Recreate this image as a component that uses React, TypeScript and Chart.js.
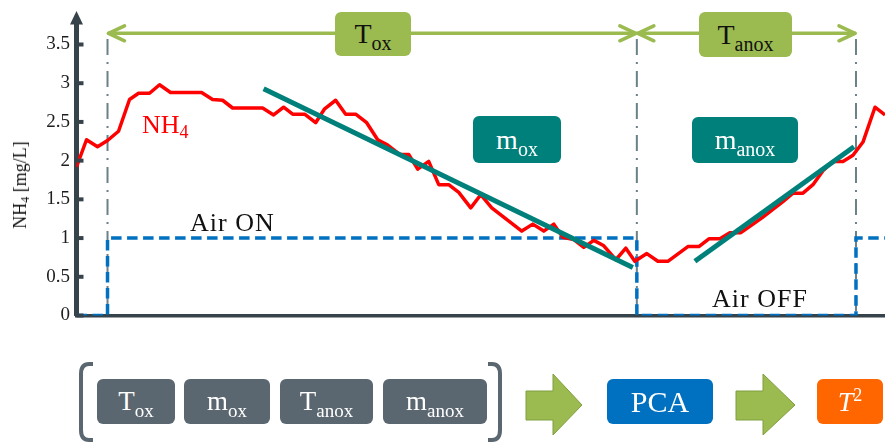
import React, { useEffect, useRef } from 'react';
import { Chart, registerables } from 'chart.js';

Chart.register(...registerables);

// ---------- data ----------
const timeMin = [
  0.0, 1.0, 2.1, 3.1, 4.2, 5.3, 6.2, 7.3, 8.3, 9.4, 12.5, 13.6, 14.6, 15.6, 18.6, 19.7,
  20.7, 21.6, 22.8, 23.9, 24.8, 25.9, 26.9, 27.9, 29.0, 30.1, 31.1, 32.3, 33.2, 34.1, 35.2,
  36.2, 37.2, 38.2, 39.4, 40.4, 41.5, 42.5, 44.5, 45.6, 46.7, 47.7, 48.6, 49.7, 50.7, 51.7,
  52.7, 53.9, 54.9, 55.8, 57.0, 58.1, 59.1, 61.1, 62.2, 63.2, 64.3, 65.3, 66.4, 67.4, 68.5,
  69.5, 70.6, 71.6, 72.6, 73.6, 74.6, 75.6, 76.6, 77.6, 78.6, 79.8, 80.8,
];
const nh4 = [
  1.92, 2.27, 2.18, 2.26, 2.38, 2.79, 2.87, 2.87, 2.98, 2.88, 2.88, 2.79, 2.78, 2.68, 2.68, 2.59,
  2.69, 2.6, 2.6, 2.49, 2.67, 2.78, 2.6, 2.6, 2.49, 2.27, 2.2, 2.08, 2.08, 1.89, 1.99,
  1.69, 1.69, 1.59, 1.39, 1.56, 1.39, 1.29, 1.09, 1.18, 1.09, 1.18, 1.01, 0.98, 0.88, 0.97,
  0.9, 0.72, 0.87, 0.7, 0.8, 0.7, 0.7, 0.89, 0.89, 0.99, 0.99, 1.07, 1.07, 1.16, 1.26,
  1.36, 1.47, 1.58, 1.58, 1.69, 1.87, 1.99, 1.99, 2.07, 2.24, 2.69, 2.59,
];
const airTime = [0, 3.1, 3.1, 56.0, 56.0, 77.9, 77.9, 80.8];
const airState = [0, 0, 1, 1, 0, 0, 1, 1];
const oxFitTime = [18.7, 55.6];
const oxFitValue = [2.93, 0.62];
const anoxFitTime = [61.8, 77.7];
const anoxFitValue = [0.7, 2.18];
const phaseBounds = [3.1, 56.0, 77.9];
const yMin = 0;
const yMax = 3.5;
const yStep = 0.5;
const xMax = 80.8;

// ---------- styles ----------
const SERIF = '"Liberation Serif", "DejaVu Serif", serif';
const AXIS = '#37434a';
const DASHDOT = '#6b8088';
const GREEN = '#9bbb50';
const TEAL = '#00807a';
const GRAY = '#5b6770';

const zip = (xs: number[], ys: number[]) => xs.map((x, i) => ({ x, y: ys[i] }));

const decor = {
  id: 'decor',
  beforeDatasetsDraw(chart: any) {
    const { ctx, chartArea, scales } = chart;
    const x = scales.x;
    ctx.save();
    ctx.strokeStyle = DASHDOT;
    ctx.lineWidth = 2;
    ctx.setLineDash([16, 7, 2, 7]);
    for (const t of phaseBounds) {
      const px = x.getPixelForValue(t);
      ctx.beginPath();
      ctx.moveTo(px, 39);
      ctx.lineTo(px, chartArea.bottom);
      ctx.stroke();
    }
    ctx.restore();
  },
  afterDraw(chart: any) {
    const { ctx, chartArea, scales } = chart;
    const x = scales.x;
    const y = scales.y;
    const L = chartArea.left;
    ctx.save();
    // y axis extension + arrow head
    ctx.strokeStyle = AXIS;
    ctx.fillStyle = AXIS;
    ctx.lineWidth = 5;
    ctx.beginPath();
    ctx.moveTo(L, chartArea.top + 1);
    ctx.lineTo(L, 23);
    ctx.stroke();
    ctx.beginPath();
    ctx.moveTo(L - 6.5, 24.5);
    ctx.lineTo(L + 6.5, 24.5);
    ctx.lineTo(L, 11);
    ctx.closePath();
    ctx.fill();
    // inward tick marks
    ctx.lineWidth = 4;
    for (const tk of y.ticks) {
      const py = y.getPixelForValue(tk.value);
      ctx.beginPath();
      ctx.moveTo(L, py);
      ctx.lineTo(L + 7, py);
      ctx.stroke();
    }
    // green double arrows
    const ay = 33.3;
    ctx.strokeStyle = GREEN;
    ctx.lineWidth = 3.5;
    ctx.lineCap = 'round';
    ctx.lineJoin = 'round';
    const dbl = (t1: number, t2: number) => {
      const x1 = x.getPixelForValue(t1) + 1;
      const x2 = x.getPixelForValue(t2) - 1;
      ctx.beginPath();
      ctx.moveTo(x1, ay);
      ctx.lineTo(x2, ay);
      ctx.stroke();
      ctx.beginPath();
      ctx.moveTo(x1 + 16, ay - 7.5);
      ctx.lineTo(x1, ay);
      ctx.lineTo(x1 + 16, ay + 7.5);
      ctx.stroke();
      ctx.beginPath();
      ctx.moveTo(x2 - 16, ay - 7.5);
      ctx.lineTo(x2, ay);
      ctx.lineTo(x2 - 16, ay + 7.5);
      ctx.stroke();
    };
    dbl(phaseBounds[0], phaseBounds[1]);
    dbl(phaseBounds[1], phaseBounds[2]);
    ctx.restore();
  },
};

const Sub = ({ children, size = 20, dy = 7 }: any) => (
  <span style={{ fontSize: size, position: 'relative', top: dy }}>{children}</span>
);

const Box = ({ x, y, w, h, bg, color, size = 28, children }: any) => (
  <div
    style={{
      position: 'absolute',
      left: x,
      top: y,
      width: w,
      height: h,
      background: bg,
      color,
      borderRadius: 6,
      display: 'flex',
      alignItems: 'center',
      justifyContent: 'center',
      fontFamily: SERIF,
      fontSize: size,
      lineHeight: 1,
      whiteSpace: 'nowrap',
    }}
  >
    <span>{children}</span>
  </div>
);

const Text = ({ x, y, size, color = '#111', children, spacing = 0 }: any) => (
  <div
    style={{
      position: 'absolute',
      left: x,
      top: y,
      fontFamily: SERIF,
      fontSize: size,
      lineHeight: 1,
      color,
      whiteSpace: 'nowrap',
      letterSpacing: spacing,
    }}
  >
    {children}
  </div>
);

export default function App() {
  const ref = useRef<HTMLCanvasElement | null>(null);

  useEffect(() => {
    if (!ref.current) return;
    const chart = new Chart(ref.current, {
      type: 'line',
      data: {
        datasets: [
          {
            data: zip(oxFitTime, oxFitValue),
            borderColor: TEAL,
            borderWidth: 5,
            pointRadius: 0,
            order: 1,
          },
          {
            data: zip(anoxFitTime, anoxFitValue),
            borderColor: TEAL,
            borderWidth: 5,
            pointRadius: 0,
            order: 1,
          },
          {
            data: zip(timeMin, nh4),
            borderColor: '#ff0000',
            borderWidth: 3.5,
            pointRadius: 0,
            borderJoinStyle: 'round',
            order: 2,
          },
          {
            data: zip(airTime, airState),
            borderColor: '#0070c0',
            borderWidth: 3.5,
            borderDash: [10.5, 5.5],
            pointRadius: 0,
            order: 3,
          },
        ] as any,
      },
      options: {
        animation: false,
        responsive: false,
        maintainAspectRatio: false,
        layout: { padding: { top: 44.5, right: 0, bottom: 0, left: 0 } },
        plugins: { legend: { display: false }, tooltip: { enabled: false } },
        scales: {
          x: {
            type: 'linear',
            min: 0,
            max: xMax,
            ticks: { display: false },
            grid: { display: false, drawTicks: false },
            border: { display: true, color: AXIS, width: 3.5 },
            afterFit: (s: any) => {
              s.height = 127.5;
            },
          },
          y: {
            min: yMin,
            max: yMax,
            ticks: {
              stepSize: yStep,
              padding: 6.5,
              color: '#1e1e1e',
              font: { family: 'Liberation Serif', size: 19 },
              callback: (v: any) => String(Number(v)),
            },
            grid: { display: false, drawTicks: false },
            border: { display: true, color: AXIS, width: 5 },
            afterFit: (s: any) => {
              s.width = 76.5;
            },
          },
        },
      } as any,
      plugins: [decor],
    });
    return () => chart.destroy();
  }, []);

  return (
    <div style={{ position: 'absolute', left: 0, top: 0, width: 885, height: 443, background: '#fff', overflow: 'hidden' }}>
      <canvas ref={ref} width={885} height={443} style={{ position: 'absolute', left: 0, top: 0, width: 885, height: 443 }} />

      {/* y axis title */}
      <div
        style={{
          position: 'absolute',
          left: 20,
          top: 185,
          transform: 'translate(-50%, -50%) rotate(-90deg)',
          fontFamily: SERIF,
          fontSize: 18,
          lineHeight: 1,
          whiteSpace: 'nowrap',
          color: '#111',
        }}
      >
        NH<Sub size={12} dy={3}>4</Sub> [mg/L]
      </div>

      <Text x={142} y={112} size={26} color="#ff0000">
        NH<Sub size={18} dy={5}>4</Sub>
      </Text>
      <Text x={190} y={210} size={26} spacing={1}>Air ON</Text>
      <Text x={712} y={286} size={26} spacing={1}>Air OFF</Text>

      <Box x={335} y={12} w={76} h={44} bg={GREEN} color="#111">
        T<Sub>ox</Sub>
      </Box>
      <Box x={699} y={12} w={93} h={45} bg={GREEN} color="#111">
        T<Sub>anox</Sub>
      </Box>
      <Box x={473} y={116} w={88} h={47} bg={TEAL} color="#fff">
        m<Sub>ox</Sub>
      </Box>
      <Box x={692} y={117} w={106} h={46} bg={TEAL} color="#fff">
        m<Sub>anox</Sub>
      </Box>

      {/* bottom flow */}
      <svg width={885} height={443} style={{ position: 'absolute', left: 0, top: 0, pointerEvents: 'none' }}>
        <path d="M93,364 L89,364 Q81,364 81,374 L81,430 Q81,440 89,440 L93,440" fill="none" stroke={GRAY} strokeWidth={4} />
        <path d="M488,364 L492,364 Q500,364 500,374 L500,430 Q500,440 492,440 L488,440" fill="none" stroke={GRAY} strokeWidth={4} />
        <polygon points="526,391 553,391 553,374 582,405 553,435 553,420 526,420" fill={GREEN} stroke="#7f9e3e" strokeWidth={1} />
        <polygon points="736,391 763,391 763,374 795,405 763,435 763,420 736,420" fill={GREEN} stroke="#7f9e3e" strokeWidth={1} />
      </svg>

      <Box x={97} y={379} w={78} h={45} bg={GRAY} color="#fff" size={27}>
        T<Sub size={19}>ox</Sub>
      </Box>
      <Box x={184} y={379} w={86} h={45} bg={GRAY} color="#fff" size={27}>
        m<Sub size={19}>ox</Sub>
      </Box>
      <Box x={280} y={379} w={93} h={45} bg={GRAY} color="#fff" size={27}>
        T<Sub size={19}>anox</Sub>
      </Box>
      <Box x={383} y={379} w={104} h={45} bg={GRAY} color="#fff" size={27}>
        m<Sub size={19}>anox</Sub>
      </Box>
      <Box x={607} y={379} w={106} h={45} bg="#0070c0" color="#fff" size={30}>
        PCA
      </Box>
      <Box x={817} y={379} w={66} h={45} bg="#ff6600" color="#fff" size={28}>
        <i>T</i>
        <Sub size={18} dy={-10}>2</Sub>
      </Box>
    </div>
  );
}
